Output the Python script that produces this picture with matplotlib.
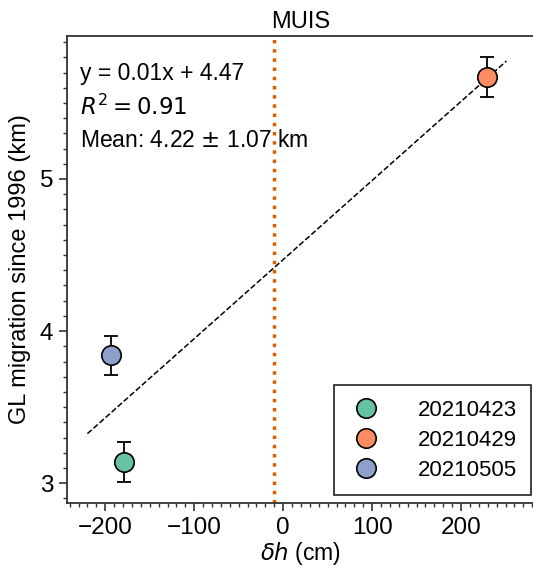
import matplotlib
matplotlib.use("Agg")
import matplotlib.pyplot as plt
import numpy as np
from matplotlib.ticker import MultipleLocator

plt.rcParams['font.family'] = ['Liberation Sans', 'DejaVu Sans']
plt.rcParams['mathtext.fontset'] = 'dejavusans'

dates = ['20210423', '20210429', '20210505']
dh = [-179, 229, -193]
gl = [3.14, 5.67, 3.84]
gl_err = [0.13, 0.13, 0.13]
colors = ['#66c2a5', '#fc8d62', '#8da0cb']

fit_slope = 0.0052
fit_intercept = 4.47
fit_x = [-220, 251]
vline_x = -10

fig = plt.figure(figsize=(5.33, 5.68), dpi=100)
ax = fig.add_axes([67/533, 1 - 503/568, (534-67)/533, (503-36)/568])

fx = np.array(fit_x)
ax.plot(fx, fit_slope*fx + fit_intercept, '--', color='black', lw=1.1, zorder=2)
ax.axvline(vline_x, color='#d95f02', ls=':', lw=2.5, zorder=1)

for x, y, e, c, lab in zip(dh, gl, gl_err, colors, dates):
    ax.errorbar(x, y, yerr=e, fmt='none', ecolor='black', elinewidth=1.3, capsize=5, capthick=1.3, zorder=3)
    ax.plot(x, y, 'o', ms=14, mfc=c, mec='black', mew=1.2, zorder=4, label=lab)

ax.set_xlim(-243, 282)
ax.set_ylim(2.87, 5.94)
ax.xaxis.set_major_locator(MultipleLocator(100))
ax.xaxis.set_minor_locator(MultipleLocator(10))
ax.yaxis.set_major_locator(MultipleLocator(1))
ax.yaxis.set_minor_locator(MultipleLocator(0.1))
ax.tick_params(which='major', length=6, width=1.2, labelsize=17.5, color='#333333', pad=4)
ax.tick_params(which='minor', length=3, width=1.0, color='#333333')
for s in ax.spines.values():
    s.set_linewidth(1.3)
    s.set_color('#333333')

ax.set_xlabel(r'$\delta h$ (cm)', fontsize=16.5, labelpad=1)
ax.set_ylabel('GL migration since 1996 (km)', fontsize=17, labelpad=6)
ax.set_title('MUIS', fontsize=17, pad=6)

ax.text(0.028, 0.92, 'y = 0.01x + 4.47', transform=ax.transAxes, fontsize=16.5, va='center')
ax.text(0.028, 0.847, r'$R^2 = 0.91$', transform=ax.transAxes, fontsize=16.5, va='center')
ax.text(0.028, 0.776, r'Mean: 4.22 $\pm$ 1.07 km', transform=ax.transAxes, fontsize=16.5, va='center')

leg = ax.legend(loc='lower right', fontsize=16, frameon=True, fancybox=False,
                edgecolor='#333333', framealpha=1, handletextpad=1.5, borderpad=0.65,
                labelspacing=0.4, borderaxespad=0, handlelength=1.6,
                bbox_to_anchor=(1 - 3/467, 8/467))
leg.get_frame().set_linewidth(1.3)

fig.savefig('out.png', dpi=100)
